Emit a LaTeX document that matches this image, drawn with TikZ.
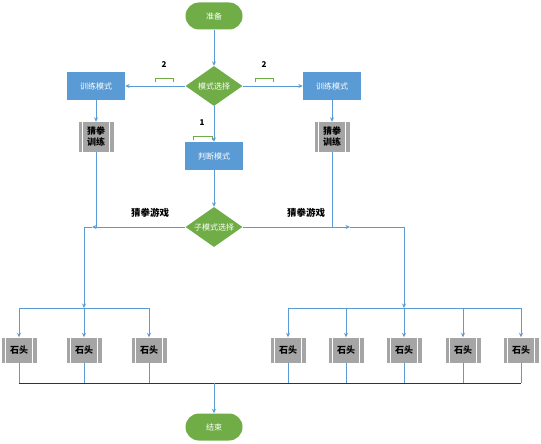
\documentclass[tikz,border=0pt]{standalone}
\usepackage{fontspec}
\newfontfamily\cjk{Noto Sans CJK SC}
\usetikzlibrary{shapes.geometric,arrows.meta,calc}
\definecolor{lblue}{HTML}{5B9BD5}
\definecolor{lgreen}{HTML}{70AD47}
\definecolor{lgray}{HTML}{A5A5A5}
\definecolor{dblue}{HTML}{1F2D86}
\tikzset{
  base/.style={font=\cjk\fontsize{8}{10}\selectfont, inner sep=0pt},
  term/.style={base, rectangle, rounded corners=13.5pt, fill=lgreen, text=white, minimum width=57pt, minimum height=27pt},
  dec/.style={base, diamond, aspect=1.4, fill=lgreen, text=white, minimum width=57pt, minimum height=40pt},
  proc/.style={base, rectangle, fill=lblue, text=white, minimum width=58pt, minimum height=28pt},
  gbox/.style={base, rectangle, fill=lgray, text=black, font=\cjk\bfseries\fontsize{9}{11}\selectfont, align=center, minimum width=35pt,
    path picture={
      \draw[white, line width=1pt] ($(path picture bounding box.north west)+(4,0)$) -- ($(path picture bounding box.south west)+(4,0)$);
      \draw[white, line width=1pt] ($(path picture bounding box.north east)+(-4,0)$) -- ($(path picture bounding box.south east)+(-4,0)$);
    }},
  lbl/.style={base, text=black, font=\cjk\bfseries\fontsize{9.5}{10}\selectfont},
  num/.style={inner sep=0pt, font=\cjk\bfseries\fontsize{8}{9}\selectfont},
  conn/.style={draw=lblue, line width=0.8pt},
  arr/.style={conn, -{Stealth[length=4.5pt,width=4pt]}},
  brk/.style={draw=lgreen, line width=0.8pt}
}
\begin{document}
\begin{tikzpicture}[x=1pt,y=-1pt]
\useasboundingbox[fill=white] (0,0) rectangle (541,444);
% nodes
\node[term] (start) at (214,16) {准备};
\node[dec] (sel) at (214,86) {模式选择};
\node[proc] (trL) at (96,86) {训练模式};
\node[proc] (trR) at (332,86) {训练模式};
\node[gbox, minimum height=30pt] (gL) at (96,137) {猜拳\\训练};
\node[gbox, minimum height=30pt] (gR) at (332,137) {猜拳\\训练};
\node[proc] (judge) at (214,156) {判断模式};
\node[dec] (sub) at (214,227) {子模式选择};
\node[lbl] (labL) at (150,213) {猜拳游戏};
\node[lbl] (labR) at (306,213) {猜拳游戏};
\node[num] (n2L) at (164,65) {2};
\node[num] (n2R) at (264,65) {2};
\node[num] (n1) at (202,123) {1};
% rock boxes
\foreach \n/\x in {r1/19, r2/84, r3/149, r4/288, r5/346, r6/404, r7/463, r8/521}{
  \node[gbox, minimum height=25pt] (\n) at (\x,350) {石头};
}
\node[term] (end) at (214,427) {结束};
% junction coordinates
\coordinate (aL) at (92,227);
\coordinate (jL) at (84,227);
\coordinate (aR) at (350,227);
\coordinate (jR) at (404,227);
\coordinate (bL) at (84,308);
\coordinate (bR) at (404,308);
\coordinate (botL) at (19,383);
\coordinate (botR) at (521,383);
% brackets
\draw[brk] (155,82) -- (155,78) -- (173,78) -- (173,82);
\draw[brk] (255,82) -- (255,78) -- (273,78) -- (273,82);
\draw[brk] (193,140) -- (193,136) -- (212,136) -- (212,140);
% connectors
\draw[arr] (start) -- (sel);
\draw[arr] (sel) -- (trL);
\draw[arr] (sel) -- (trR);
\draw[arr] (sel) -- (judge);
\draw[arr] (trL) -- (gL);
\draw[arr] (trR) -- (gR);
\draw[arr] (judge) -- (sub);
\draw[conn] (gL) -- (gL |- sub);
\draw[conn] (gR) -- (gR |- sub);
\draw[arr] (sub) -- (aL);
\draw[conn] (aL) -- (jL);
\draw[arr] (sub) -- (aR);
\draw[conn] (aR) -- (jR);
\draw[arr] (jL) -- (bL);
\draw[arr] (jR) -- (bR);
\draw[conn] (r1 |- bL) -- (r3 |- bL);
\draw[conn] (r4 |- bR) -- (r8 |- bR);
\foreach \n in {r1,r2,r3}{ \draw[arr] (\n |- bL) -- (\n); }
\foreach \n in {r4,r5,r6,r7,r8}{ \draw[arr] (\n |- bR) -- (\n); }
\foreach \n in {r1,r2,r3,r4,r5,r6,r7,r8}{ \draw[conn] (\n) -- (\n |- botL); }
\draw[dblue, line width=1pt] (botL) -- (botR);
\draw[arr] (end |- botL) -- (end);
\end{tikzpicture}
\end{document}
